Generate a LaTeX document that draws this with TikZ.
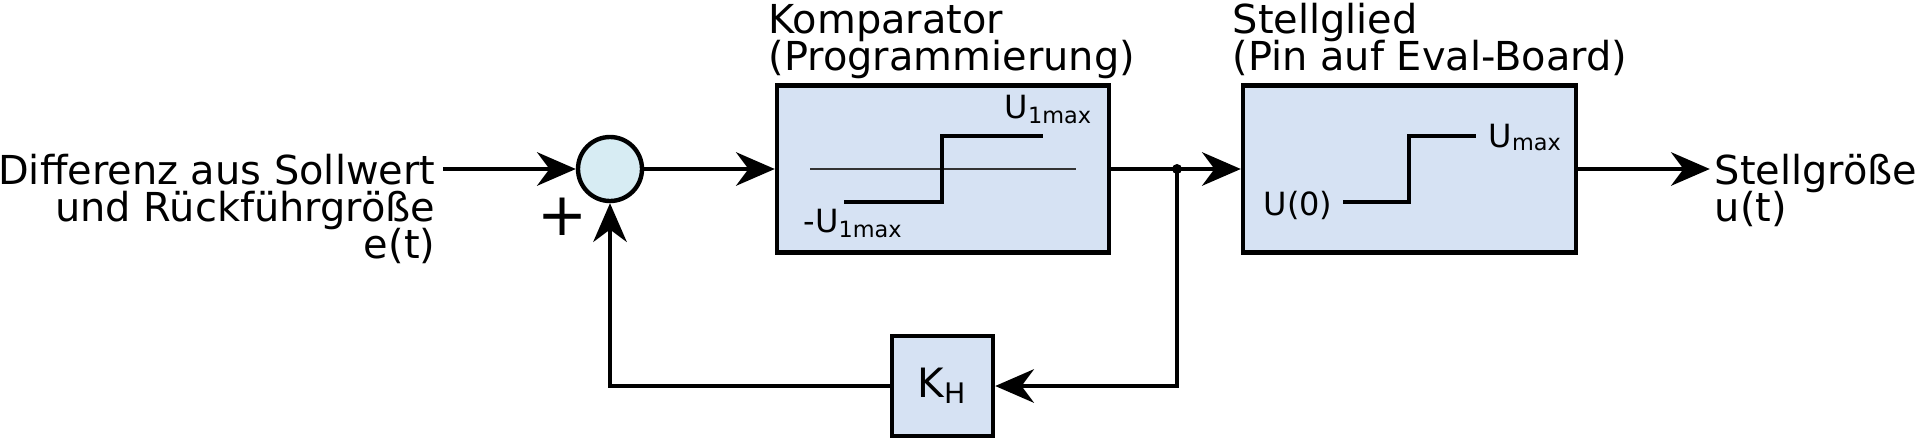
\documentclass[tikz,border=0pt]{standalone}
\usepackage{fontspec}
\setmainfont{DejaVu Sans}
\usetikzlibrary{arrows.meta,positioning}
\definecolor{blockblau}{HTML}{D6E2F3}
\definecolor{summblau}{HTML}{D7ECF3}

\begin{document}
\begin{tikzpicture}[x=1cm,y=1cm,
  block/.style={draw,line width=1.25pt,fill=blockblau,inner sep=0pt},
  pfeil/.style={line width=1.25pt,-{Stealth[length=11pt,width=9.5pt,inset=3.5pt]}},
  linie/.style={line width=1.25pt},
  kennlinie/.style={line width=1.4pt},
  gross/.style={font={\fontsize{11.35}{10.5}\selectfont\lineskiplimit -20pt\relax},inner sep=0pt},
  klein/.style={font=\fontsize{9.1}{9.1}\selectfont,inner sep=0pt}]
  \useasboundingbox (0,0) rectangle (19.16,4.38);

  % Bloecke
  \node[draw,circle,line width=1.25pt,fill=summblau,minimum size=0.64cm,inner sep=0pt] (sum) at (6.10,2.69) {};
  \node[block,minimum width=3.32cm,minimum height=1.67cm] (komp) at (9.43,2.69) {};
  \node[block,minimum width=3.33cm,minimum height=1.67cm] (stell) at (14.095,2.69) {};
  \node[block,minimum width=1.01cm,minimum height=1.0cm,font=\fontsize{11.5}{11.5}\selectfont] (kh) at (9.425,0.52) {K\textsubscript{H}};
  \coordinate (abzw) at (11.77,2.69);

  % Texte
  \node[gross,align=right,anchor=north east] (ein) at (4.36,2.844) {Differenz aus Sollwert\\und Rückführgröße\\e(t)};
  \node[gross,align=left,anchor=north west] (aus) at (17.14,2.844) {Stellgröße\\u(t)};
  \node[gross,align=left,anchor=south west] (kompname) at (7.68,3.587) {Komparator\\(Programmierung)};
  \node[gross,align=left,anchor=south west] (stellname) at (12.32,3.618) {Stellglied\\(Pin auf Eval-Board)};
  \node[font=\fontsize{17}{17}\selectfont,inner sep=0pt] (plus) at (5.63,2.21) {+};

  % Kennlinien
  \draw[line width=0.5pt,black!80] (8.10,2.69) -- (10.76,2.69);
  \draw[kennlinie] (8.44,2.36) -- (9.42,2.36) -- (9.42,3.02) -- (10.43,3.02);
  \node[klein,anchor=base west] (uplus) at (10.04,3.20) {U\textsubscript{1max}};
  \node[klein,anchor=base west] (uminus) at (8.03,2.06) {-U\textsubscript{1max}};
  \draw[kennlinie] (13.43,2.36) -- (14.09,2.36) -- (14.09,3.02) -- (14.76,3.02);
  \node[klein,anchor=base east] (unull) at (13.33,2.23) {U(0)};
  \node[klein,anchor=base west] (umax) at (14.88,2.91) {U\textsubscript{max}};

  % Verbindungen
  \draw[pfeil] ([xshift=2pt]sum.west -| ein.east) -- (sum);
  \draw[pfeil] (sum) -- (komp);
  \draw[linie] (komp) -- (abzw);
  \fill (abzw) circle (0.05);
  \draw[pfeil] (abzw) -- (stell);
  \draw[pfeil] (stell) -- ([xshift=-1.2pt]stell -| aus.west);
  \draw[pfeil] (abzw) |- (kh);
  \draw[pfeil] (kh) -| (sum);
\end{tikzpicture}
\end{document}
